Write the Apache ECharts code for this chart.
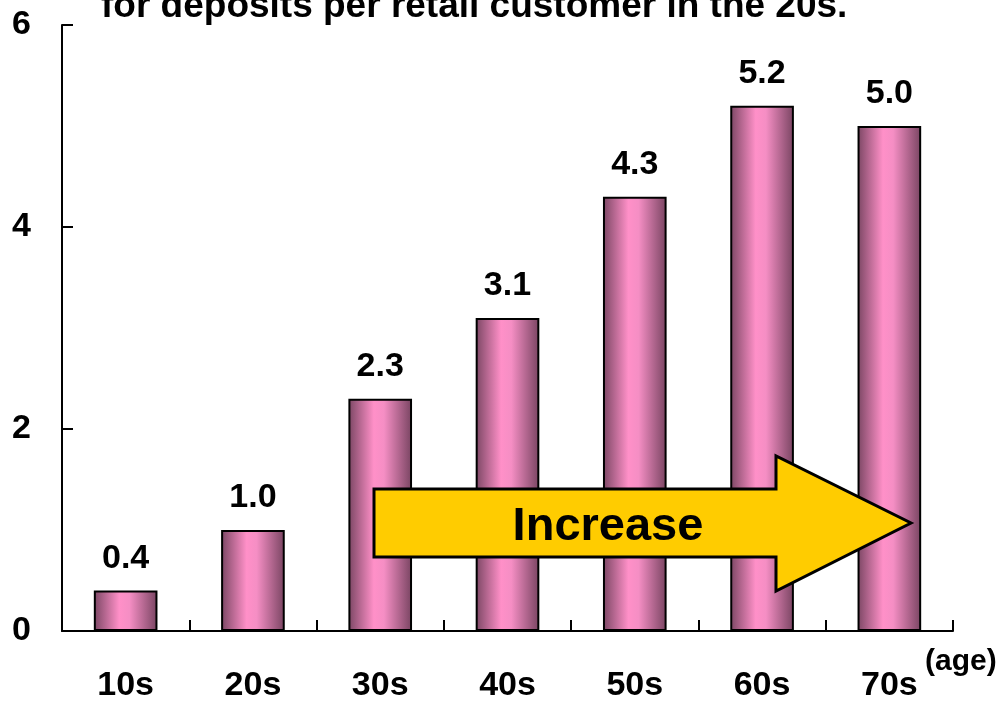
<!DOCTYPE html>
<html>
<head>
<meta charset="utf-8">
<script src="https://cdn.jsdelivr.net/npm/echarts@6/dist/echarts.min.js"></script>
<style>html,body{margin:0;padding:0;background:#fff}#c{width:1000px;height:702px}</style>
</head>
<body>
<div id="c"></div>
<script>
const categories = ['10s', '20s', '30s', '40s', '50s', '60s', '70s'];
const values = [0.4, 1.0, 2.3, 3.1, 4.3, 5.2, 5.0];
const yTicks = [0, 2, 4, 6];
const titleText = 'for deposits per retail customer in the 20s.';
const arrowText = 'Increase';
const unitText = '(age)';

const FONT = '"Liberation Sans", Arial, sans-serif';
const chart = echarts.init(document.getElementById('c'), null, {renderer: 'canvas'});
chart.setOption({
  animation: false,
  backgroundColor: '#fff',
  grid: {left: 62, right: 47, top: 25, bottom: 71, containLabel: false, outerBoundsMode: 'none'},
  xAxis: {
    type: 'category',
    data: categories,
    axisLine: {lineStyle: {color: '#000', width: 2}},
    axisTick: {show: true, inside: true, length: 11, lineStyle: {color: '#000', width: 2}},
    axisLabel: {color: '#000', fontSize: 34, fontWeight: 'bold', fontFamily: FONT, margin: 38}
  },
  yAxis: {
    type: 'value',
    min: yTicks[0], max: yTicks[yTicks.length - 1], interval: 2,
    splitLine: {show: false},
    axisLine: {show: true, lineStyle: {color: '#000', width: 2}},
    axisTick: {show: true, inside: true, length: 11, lineStyle: {color: '#000', width: 2}},
    axisLabel: {color: '#000', fontSize: 34, fontWeight: 'bold', fontFamily: FONT, margin: 31}
  },
  series: [{
    type: 'bar',
    data: values,
    barWidth: '50%',
    itemStyle: {
      borderColor: '#000', borderWidth: 2,
      color: new echarts.graphic.LinearGradient(0, 0, 1, 0, [
        {offset: 0, color: '#7a4663'},
        {offset: 0.4, color: '#ff90c8'},
        {offset: 0.56, color: '#f58ec4'},
        {offset: 1, color: '#784461'}
      ])
    },
    label: {
      show: true, position: 'top', distance: 15,
      color: '#000', fontSize: 34, fontWeight: 'bold', fontFamily: FONT,
      formatter: p => p.value.toFixed(1)
    }
  }],
  graphic: [
    {type: 'text', left: 101, top: -12, style: {text: titleText, fill: '#000', font: 'bold 37px ' + FONT}},
    {type: 'text', left: 925, top: 647, style: {text: unitText, fill: '#000', font: 'bold 30px ' + FONT}},
    {type: 'polygon', z: 10,
      shape: {points: [[374, 489], [776, 489], [776, 456], [911, 523], [776, 591], [776, 557], [374, 557]]},
      style: {fill: '#ffcc00', stroke: '#000', lineWidth: 3}},
    {type: 'text', z: 11, x: 608, y: 527,
      style: {text: arrowText, fill: '#000', font: 'bold 47px ' + FONT, align: 'center', verticalAlign: 'middle'}}
  ]
});
</script>
</body>
</html>
